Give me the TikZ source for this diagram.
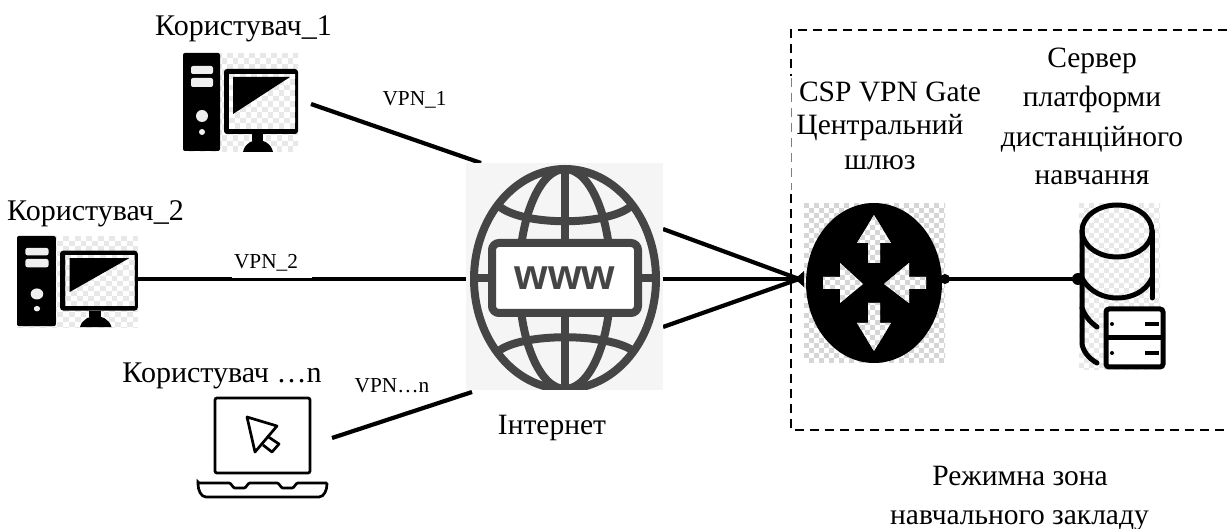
\documentclass[tikz,border=0pt]{standalone}
\usepackage{fontspec}
\setmainfont{Liberation Serif}
\newfontfamily\wwwfont{Liberation Sans}
\definecolor{chk}{HTML}{D6D6D6}
\definecolor{chklight}{HTML}{E8E8E8}
\definecolor{globecol}{HTML}{454545}
\definecolor{globebg}{HTML}{F5F5F5}
\newcommand{\chkboard}[6][chk]{% colour; x0 y0 x1 y1 cell
  \begin{scope}
    \clip (#2,#3) rectangle (#4,#5);
    \fill[white] (#2,#3) rectangle (#4,#5);
    \pgfmathtruncatemacro{\chknx}{(#4-#2)/#6}
    \pgfmathtruncatemacro{\chkny}{(#5-#3)/#6}
    \foreach \i in {0,...,\chknx}{\foreach \j in {0,...,\chkny}{
      \pgfmathtruncatemacro{\chkodd}{mod(\i+\j,2)}
      \ifnum\chkodd=0
        \fill[#1] ({#2+\i*#6},{#3+\j*#6}) rectangle ++(#6,#6);
      \fi}}
  \end{scope}}
\newcommand{\pcicon}{% local coordinates: 115 x 99
  \chkboard[chklight]{0}{0}{115}{99}{5.5}
  \fill[black,rounded corners=2] (0,0) rectangle (37,98);
  \fill[chk!40,rounded corners=2] (8,13) rectangle (30,21);
  \fill[chk!40,rounded corners=2] (8,25) rectangle (30,34);
  \fill[chk!40] (19,63) circle (6);
  \fill[chk!40] (19,79) circle (3);
  \fill[black,rounded corners=3] (41,16) rectangle (115,81);
  \chkboard[chklight]{46}{21}{112}{76}{5.5}
  \fill[black] (50,24) -- (107,24) -- (50,61) -- cycle;
  \fill[black] (69,81) rectangle (80,88);
  \fill[black] (60,99) .. controls (62,90) and (70,87) .. (75,87) .. controls (80,87) and (88,90) .. (90,99) -- cycle;}
\tikzset{
  txt/.style={font=\fontsize{29.5}{33}\selectfont,anchor=base,inner sep=0pt},
  usertxt/.style={font=\fontsize{30}{33}\selectfont,anchor=base,inner sep=0pt},
  vpn/.style={font=\fontsize{21.3}{24}\selectfont,anchor=base,inner sep=0pt},
  link/.style={line width=4.2pt,black},
  iconbox/.style={inner sep=0pt,minimum width=#1},
  grid lines/.style={line width=8pt,globecol},
  zone/.style={line width=1.6pt,dash pattern=on 9pt off 6pt},
  srvline/.style={line width=5pt,line cap=round},
  lapline/.style={line width=2.7pt}
}
\begin{document}
\begin{tikzpicture}[x=1pt,y=-1pt]
\useasboundingbox (0,0) rectangle (1227,529);
\fill[white] (0,0) rectangle (1227,529);
% anchors
\coordinate (c1) at (311,104);
\coordinate (c2) at (138,279);
\coordinate (c4) at (332,438);
\coordinate (g1) at (481,163);
\coordinate (g2) at (466,279);
\coordinate (g4) at (472,392);
\coordinate (go1) at (663,229);
\coordinate (go2) at (663,279);
\coordinate (go3) at (663,327);
\coordinate (rin) at (799,279);
\coordinate (rout) at (945,279);
\coordinate (srv) at (1078,279);
% dashed zone
\draw[zone] (1227,30) -- (791,30) -- (791,430) -- (1227,430);
\fill[white] (789,76) rectangle (793,190);
\draw[line width=.8pt,gray,dash pattern=on 9pt off 6pt] (791,78) -- (791,190);
% connectors
\draw[link] (c1) -- (g1);
\draw[link] (c2) -- (g2);
\draw[link] (c4) -- (g4);
\draw[link] (go1) -- (rin);
\draw[link] (go2) -- (rin);
\draw[link] (go3) -- (rin);
\fill[white] (232,268) rectangle (312,278);
% PCs
\begin{scope}[shift={(183,53)}]\pcicon\end{scope}
\begin{scope}[shift={(17,236)},xscale=1.05,yscale=.92]\pcicon\end{scope}
% Globe
\fill[globebg] (466,163) rectangle (663,390);
\begin{scope}
  \clip (466,163) rectangle (663,390);
  \draw[grid lines] (565,279) ellipse (91 and 110);
  \draw[grid lines] (565,279) ellipse (46 and 110);
  \draw[grid lines] (565,169) -- (565,389);
  \draw[grid lines] (474,278) -- (656,278);
  \draw[grid lines] (500,207) .. controls (525,226) and (605,226) .. (630,207);
  \draw[grid lines] (500,350) .. controls (525,333) and (605,333) .. (632,350);
\end{scope}
\node[iconbox=146pt,minimum height=70pt,draw=globecol,fill=white,line width=8pt,rounded corners=7pt] (www) at (565,278) {};
\node[font=\wwwfont\bfseries\fontsize{43}{43}\selectfont,text=globecol,inner sep=0pt,anchor=base] (wwwtxt) at (565,290) {www};
% Router
\chkboard{804}{203}{945}{363}{5}
\fill[black] (874,283) ellipse (68 and 80);
\node[inner sep=0pt] (router) at (874,283) {};
\begin{scope}
  \clip (874,215) -- (891,243) -- (880,243) -- (880,263) -- (868,263) -- (868,243) -- (857,243) -- cycle
        (874,351) -- (891,323) -- (880,323) -- (880,303) -- (868,303) -- (868,323) -- (857,323) -- cycle
        (863,284) -- (840,303) -- (840,289) -- (823,289) -- (823,277) -- (840,277) -- (840,263) -- cycle
        (884,284) -- (909,303) -- (909,289) -- (926,289) -- (926,277) -- (909,277) -- (909,263) -- cycle;
  \chkboard{815}{210}{935}{355}{5}
\end{scope}
\fill[black] (rin) ++(5,-8) -- ++(0,16) -- (795,279) -- cycle;
% Server
\chkboard[chklight]{1079}{203}{1160}{370}{5}
\draw[link] (rout) -- (srv);
\fill[black] (rout) circle (5);
\fill[black] (srv) circle (6);
\begin{scope}[srvline]
  \draw (1117,231) ellipse (35 and 26);
  \draw (1082,231) -- (1082,342) .. controls (1082,350) and (1088,358) .. (1097,363);
  \draw (1152,231) -- (1152,298);
  \draw (1082,278) .. controls (1090,293) and (1105,298) .. (1117,298) .. controls (1130,298) and (1145,293) .. (1152,278);
  \draw (1082,308) .. controls (1085,316) and (1090,322) .. (1097,327);
\end{scope}
\draw[line width=5pt,fill=white,rounded corners=3pt] (1106,309) rectangle (1163,367);
\draw[line width=5pt] (1106,338) -- (1163,338);
\fill[black] (1112,324) circle (2);
\fill[black] (1112,353) circle (2);
\draw[line width=4pt] (1145,324) -- (1159,324);
\draw[line width=4pt] (1145,353) -- (1159,353);
% Laptop
\draw[lapline,rounded corners=2pt] (215,398) rectangle (310,473);
\draw[lapline,rounded corners=1pt] (198,483) -- (230,483) -- (234,488) -- (245,488) -- (249,483) -- (278,483) -- (282,488) -- (293,488) -- (297,483) -- (327,483) .. controls (327,490) and (324,497) .. (318,497) -- (207,497) .. controls (201,497) and (198,490) .. (198,483) -- cycle;
\draw[lapline,line join=round] (247,417) -- (277,426) -- (255,452) -- cycle;
\draw[lapline,line join=round] (267,436) -- (279,444) -- (272,452) -- (263,445);
% Labels
\node[usertxt] (u1) at (243.5,36) {Користувач\_1};
\node[usertxt] (u2) at (95.5,221) {Користувач\_2};
\node[usertxt] (un) at (222,383) {Користувач …n};
\node[txt] (inet) at (552,435) {Інтернет};
\node[txt] (csp) at (890,102) {CSP VPN Gate};
\node[txt] (cent) at (880,135) {Центральний};
\node[txt] (shl) at (880,170) {шлюз};
\node[txt] (s1) at (1092,68) {Сервер};
\node[txt] (s2) at (1092,107) {платформи};
\node[txt] (s3) at (1092,147) {дистанційного};
\node[txt] (s4) at (1092,185) {навчання};
\node[txt] (z1) at (1020,485) {Режимна зона};
\node[txt] (z2) at (1019.5,524) {навчального закладу};
\node[vpn] (v1) at (414.5,106) {VPN\_1};
\node[vpn] (v2) at (266,269) {VPN\_2};
\node[vpn] (vn) at (392,392) {VPN…n};
\end{tikzpicture}
\end{document}
